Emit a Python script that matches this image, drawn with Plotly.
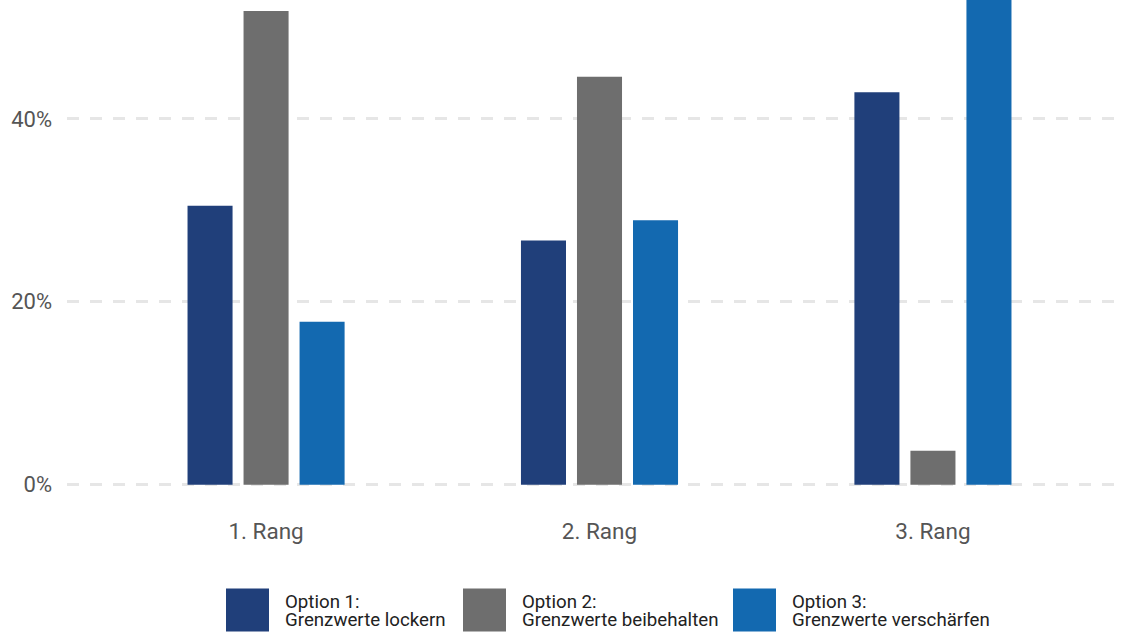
import plotly.graph_objects as go

categories = ["1. Rang", "2. Rang", "3. Rang"]
series_names = ["Option 1:<br>Grenzwerte lockern",
                "Option 2:<br>Grenzwerte beibehalten",
                "Option 3:<br>Grenzwerte verschärfen"]
legend_line1 = ["Option 1:", "Option 2:", "Option 3:"]
legend_line2 = ["Grenzwerte lockern", "Grenzwerte beibehalten", "Grenzwerte verschärfen"]
option1 = [30.5, 26.7, 42.9]
option2 = [51.8, 44.6, 3.7]
option3 = [17.8, 28.9, 53.3]
colors = ["#203F7A", "#6E6E6E", "#1369B0"]
y_ticks = [0, 20, 40]
y_tick_labels = ["0%", "20%", "40%"]

W, H = 1121, 635
ML, MR, MT, MB = 67, 0, 0, 148.6
Y_MIN, Y_MAX = -0.15, 53.0

fig = go.Figure()
for name, vals, col in zip(series_names, [option1, option2, option3], colors):
    fig.add_trace(go.Bar(x=categories, y=vals, name=name, marker_color=col,
                         marker_line_width=0, showlegend=False))

# custom legend with large square swatches
pw, ph = W - ML - MR, H - MT - MB
def px2paper_x(px):
    return (px - ML) / pw
def px2paper_y(py):
    return (H - MB - py) / ph

swatch_left = [226, 463, 733]
swatch_size = 43
swatch_top = 589
for i, col in enumerate(colors):
    x0 = swatch_left[i]
    fig.add_shape(type="rect", xref="paper", yref="paper",
                  x0=px2paper_x(x0), x1=px2paper_x(x0 + swatch_size),
                  y0=px2paper_y(swatch_top + swatch_size), y1=px2paper_y(swatch_top),
                  fillcolor=col, line_width=0)
    tx = px2paper_x(x0 + swatch_size + 14)
    fig.add_annotation(text=legend_line1[i], xref="paper", yref="paper",
                       x=tx, y=px2paper_y(602), xanchor="left", yanchor="middle",
                       showarrow=False, font=dict(size=18.7, color="#222222"))
    fig.add_annotation(text=legend_line2[i], xref="paper", yref="paper",
                       x=tx, y=px2paper_y(621), xanchor="left", yanchor="middle",
                       showarrow=False, font=dict(size=18.7, color="#222222"))

fig.update_layout(
    width=W, height=H,
    margin=dict(l=ML, r=MR, t=MT, b=MB, pad=0),
    paper_bgcolor="white", plot_bgcolor="white",
    font=dict(family="Roboto", color="#555555"),
    barmode="group", bargap=0.496, bargroupgap=0.196,
    showlegend=False,
)
fig.update_xaxes(range=[-0.597, 2.564], showgrid=False, showline=False, zeroline=False,
                 tickfont=dict(size=22.5, color="#555555"), ticks="", ticklabelstandoff=29)
fig.update_yaxes(range=[Y_MIN, Y_MAX], tickvals=y_ticks, ticktext=y_tick_labels,
                 showgrid=True, gridcolor="#E6E6E6", gridwidth=3, griddash="11.5px,11.5px",
                 zeroline=False, showline=False, ticks="",
                 tickfont=dict(size=22, color="#555555"), ticklabelstandoff=14)

fig.write_html("out.html", config={"displayModeBar": False},
               post_script="document.body.style.margin='0';document.body.style.overflow='hidden';")
